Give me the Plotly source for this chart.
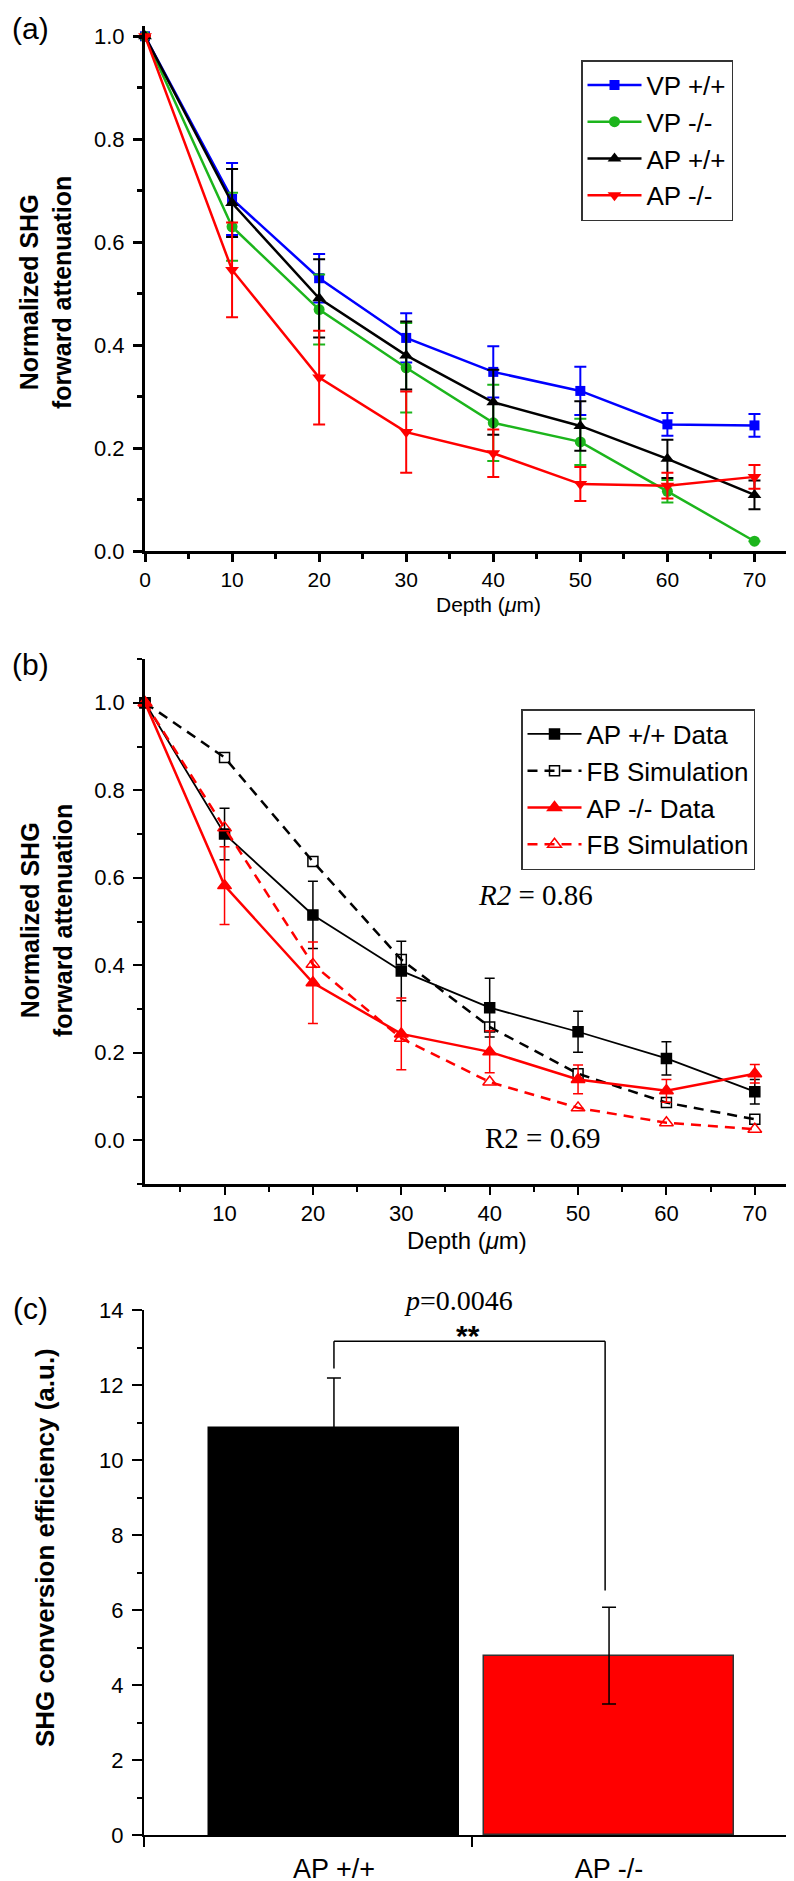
import plotly.graph_objects as go

# ---------------- Panel (a) data ----------------
depth_a = [0, 10, 20, 30, 40, 50, 60, 70]
vp_wt = [1.0, 0.684, 0.530, 0.414, 0.348, 0.311, 0.246, 0.244]
vp_wt_err = [0.0, 0.070, 0.047, 0.048, 0.050, 0.047, 0.022, 0.022]
vp_ko = [1.0, 0.630, 0.469, 0.356, 0.249, 0.212, 0.116, 0.019]
vp_ko_err = [0.0, 0.066, 0.068, 0.087, 0.074, 0.045, 0.022, 0.0]
ap_wt = [1.0, 0.676, 0.491, 0.380, 0.289, 0.243, 0.179, 0.109]
ap_wt_err = [0.0, 0.066, 0.076, 0.066, 0.063, 0.048, 0.037, 0.028]
ap_ko = [1.0, 0.546, 0.337, 0.231, 0.190, 0.130, 0.127, 0.144]
ap_ko_err = [0.0, 0.092, 0.091, 0.079, 0.046, 0.033, 0.025, 0.023]
names_a = ["VP +/+", "VP -/-", "AP +/+", "AP -/-"]

# ---------------- Panel (b) data ----------------
depth_b = [1, 10, 20, 30, 40, 50, 60, 70]
apwt_data = [1.0, 0.700, 0.515, 0.387, 0.303, 0.248, 0.187, 0.111]
apwt_data_err = [0.0, 0.059, 0.077, 0.068, 0.067, 0.047, 0.038, 0.028]
apwt_sim = [1.0, 0.875, 0.637, 0.413, 0.259, 0.152, 0.086, 0.048]
apko_data = [1.0, 0.582, 0.360, 0.243, 0.202, 0.139, 0.113, 0.152]
apko_data_err = [0.0, 0.089, 0.093, 0.082, 0.048, 0.033, 0.026, 0.021]
apko_sim = [1.0, 0.714, 0.402, 0.233, 0.133, 0.074, 0.040, 0.025]
names_b = ["AP +/+ Data", "FB Simulation", "AP -/- Data", "FB Simulation"]
r2_wt = "0.86"
r2_ko = "0.69"

# ---------------- Panel (c) data ----------------
groups_c = ["AP +/+", "AP -/-"]
shg_eff = [10.85, 4.78]
shg_err = [1.34, 1.29]
p_value = "0.0046"

# ---------------- layout helpers ----------------
FW, FH = 794, 1881


def px(x):
    return x / FW


def py(y):
    return 1 - y / FH


SANS = "Liberation Sans, Arial, sans-serif"
SERIF = "Liberation Serif, Times New Roman, serif"

BLUE = "#0000ff"
GREEN = "#1cb51c"
RED = "#ff0000"
BLACK = "#000000"

fig = go.Figure()

# ---------------- Panel (a) traces ----------------
styles_a = [
    (vp_wt, vp_wt_err, BLUE, "square", 10),
    (vp_ko, vp_ko_err, GREEN, "circle", 11),
    (ap_wt, ap_wt_err, BLACK, "triangle-up", 12),
    (ap_ko, ap_ko_err, RED, "triangle-down", 12),
]
for name, (vals, errs, col, sym, sz) in zip(names_a, styles_a):
    fig.add_trace(go.Scatter(
        x=depth_a, y=vals, name=name, mode="lines+markers",
        line=dict(color=col, width=2.5),
        marker=dict(symbol=sym, size=sz, color=col),
        error_y=dict(type="data", array=errs, visible=True, color=col,
                     thickness=2, width=6),
        xaxis="x", yaxis="y", legend="legend", cliponaxis=False,
    ))

# ---------------- Panel (b) traces ----------------
styles_b = [
    (apwt_data, apwt_data_err, BLACK, "square", 10, "solid", 1.8),
    (apwt_sim, None, BLACK, "square-open", 10, "10px,7px", 2.5),
    (apko_data, apko_data_err, RED, "triangle-up", 12, "solid", 2.5),
    (apko_sim, None, RED, "triangle-up-open", 12, "10px,7px", 2.5),
]
for name, (vals, errs, col, sym, sz, dash, lw) in zip(names_b, styles_b):
    kw = {}
    if errs is not None:
        kw["error_y"] = dict(type="data", array=errs, visible=True, color=col,
                             thickness=1.5, width=5)
    fig.add_trace(go.Scatter(
        x=depth_b, y=vals, name=name, mode="lines+markers",
        line=dict(color=col, width=lw, dash=dash),
        marker=dict(symbol=sym, size=sz, color=col, line=dict(color=col, width=1.5)),
        xaxis="x2", yaxis="y2", legend="legend2", cliponaxis=False, **kw,
    ))

# ---------------- Panel (c) bars ----------------
bar_x = [0.58, 1.42]
bar_colors = [BLACK, RED]
bar_lines = [BLACK, "#333333"]
fig.add_trace(go.Bar(
    x=bar_x, y=shg_eff, width=0.765,
    marker=dict(color=bar_colors, line=dict(color=bar_lines, width=1.5)),
    error_y=dict(type="data", array=shg_err, visible=True, color=BLACK,
                 thickness=1.5, width=7),
    xaxis="x3", yaxis="y3", showlegend=False,
))

# significance bracket (derived from bar values)
bracket_top = 13.17
left_bottom = shg_eff[0] + shg_err[0] + 0.25
right_bottom = shg_eff[1] + shg_err[1] + 0.45
shapes = [
    dict(type="line", xref="x3", yref="y3", x0=bar_x[0], x1=bar_x[0],
         y0=left_bottom, y1=bracket_top, line=dict(color=BLACK, width=1.5)),
    dict(type="line", xref="x3", yref="y3", x0=bar_x[0], x1=bar_x[1] - 0.012,
         y0=bracket_top, y1=bracket_top, line=dict(color=BLACK, width=1.5)),
    dict(type="line", xref="x3", yref="y3", x0=bar_x[1] - 0.012, x1=bar_x[1] - 0.012,
         y0=right_bottom, y1=bracket_top, line=dict(color=BLACK, width=1.5)),
]

common_axis = dict(showgrid=False, zeroline=False, showline=True, linecolor=BLACK,
                   ticks="outside", tickcolor=BLACK, automargin=False)

fig.update_layout(
    width=FW, height=FH,
    margin=dict(l=0, r=0, t=0, b=0, pad=0, autoexpand=False),
    paper_bgcolor="white", plot_bgcolor="white",
    font=dict(family=SANS, color=BLACK, size=22),
    shapes=shapes,
    bargap=0,
    xaxis=dict(**common_axis, domain=[px(137), px(790)], range=[0, 75], anchor="y",
               linewidth=3, tickwidth=2.5, ticklen=8,
               tickvals=[0, 10, 20, 30, 40, 50, 60, 70],
               minor=dict(tickvals=[5, 15, 25, 35, 45, 55, 65, 75], ticks="outside",
                          ticklen=5, tickwidth=2.5, tickcolor=BLACK),
               tickfont=dict(size=21, family=SANS)),
    yaxis=dict(**common_axis, domain=[py(543), py(18)], range=[0, 1.02], anchor="x",
               linewidth=3, tickwidth=2.5, ticklen=9, ticklabelstandoff=4,
               tickvals=[0, 0.2, 0.4, 0.6, 0.8, 1.0], tickformat=".1f",
               minor=dict(tickvals=[0.1, 0.3, 0.5, 0.7, 0.9], ticks="outside",
                          ticklen=5, tickwidth=2.5, tickcolor=BLACK),
               tickfont=dict(size=22, family=SANS)),
    xaxis2=dict(**common_axis, domain=[px(137), px(791)], range=[1, 75], anchor="y2",
                linewidth=2.5, tickwidth=2, ticklen=8,
                tickvals=[10, 20, 30, 40, 50, 60, 70],
                minor=dict(tickvals=[5, 15, 25, 35, 45, 55, 65, 75], ticks="outside",
                           ticklen=5, tickwidth=2, tickcolor=BLACK),
                tickfont=dict(size=22, family=SANS)),
    yaxis2=dict(**common_axis, domain=[py(1176), py(651)], range=[-0.1, 1.1], anchor="x2",
                linewidth=2.5, tickwidth=2, ticklen=9, ticklabelstandoff=4,
                tickvals=[0, 0.2, 0.4, 0.6, 0.8, 1.0], tickformat=".1f",
                minor=dict(tickvals=[-0.1, 0.1, 0.3, 0.5, 0.7, 0.9, 1.1], ticks="outside",
                           ticklen=5, tickwidth=2, tickcolor=BLACK),
                tickfont=dict(size=22, family=SANS)),
    xaxis3=dict(showgrid=False, zeroline=False, showline=True, linecolor=BLACK,
                automargin=False,
                domain=[px(136), px(791)], range=[0, 2], anchor="y3",
                linewidth=2, ticks="", tickvals=bar_x, ticktext=groups_c,
                ticklabelstandoff=9,
                minor=dict(tickvals=[0, 1, 2], ticks="outside", ticklen=10,
                           tickwidth=2, tickcolor=BLACK),
                tickfont=dict(size=27, family=SANS)),
    yaxis3=dict(**common_axis, domain=[py(1827), py(1302)], range=[0, 14], anchor="x3",
                linewidth=2, tickwidth=2, ticklen=10, ticklabelstandoff=4,
                tickvals=[0, 2, 4, 6, 8, 10, 12, 14],
                minor=dict(tickvals=[1, 3, 5, 7, 9, 11, 13], ticks="outside",
                           ticklen=5, tickwidth=2, tickcolor=BLACK),
                tickfont=dict(size=22, family=SANS)),
    legend=dict(x=px(573), y=py(52), xanchor="left", yanchor="top",
                bordercolor="#333333", borderwidth=1.5, bgcolor="white",
                font=dict(size=26, family=SANS), tracegroupgap=0, itemwidth=54),
    legend2=dict(x=px(513), y=py(701), xanchor="left", yanchor="top",
                 bordercolor="#333333", borderwidth=1.5, bgcolor="white",
                 font=dict(size=26, family=SANS), tracegroupgap=0, itemwidth=54),
)

ann = []


def add_text(text, x, y, size, family=SANS, angle=0, **kw):
    ann.append(dict(text=text, x=px(x), y=py(y), xref="paper", yref="paper",
                    showarrow=False, xanchor="center", yanchor="middle",
                    textangle=angle, font=dict(size=size, family=family, color=BLACK), **kw))


# panel letters
add_text("(a)", 22, 21, 30)
add_text("(b)", 22, 657, 30)
add_text("(c)", 22, 1300, 30)

# axis titles
ytitle_ab = "<b>Normalized SHG</b><br><b>forward attenuation</b>"
add_text(ytitle_ab, 38, 285, 25, angle=-90)
add_text(ytitle_ab, 38, 913, 25, angle=-90)
add_text("<b>SHG conversion efficiency (a.u.)</b>", 37, 1540, 26, angle=-90)
add_text("Depth (<i>μ</i>m)", 480, 596, 21)
add_text("Depth (<i>μ</i>m)", 459, 1232, 24)

# R2 annotations
add_text("<i>R2</i> = " + r2_wt, 527, 887, 29, family=SERIF)
add_text("R2 = " + r2_ko, 534, 1130, 29, family=SERIF)

# p-value
add_text("<i>p</i>=" + p_value, 450, 1292, 28, family=SERIF)
add_text("<b>**</b>", 460, 1327, 30)

fig.update_layout(annotations=ann)

fig.write_html("out.html")
